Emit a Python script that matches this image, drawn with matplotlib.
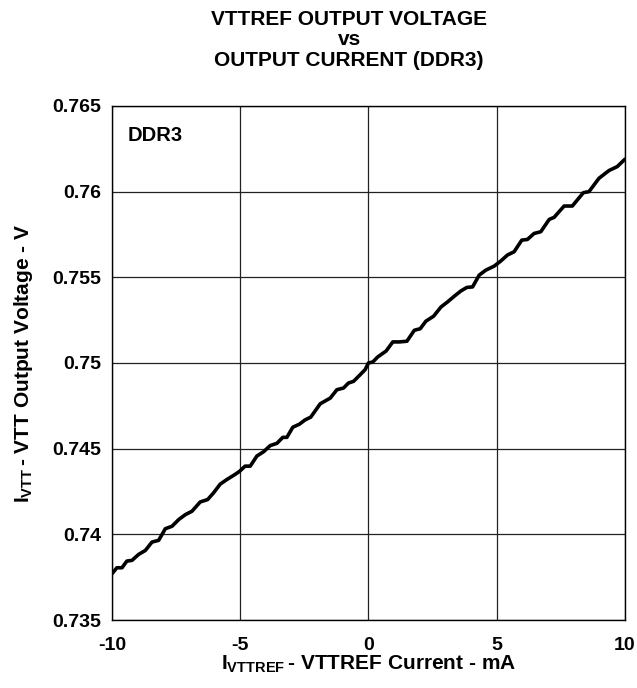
import matplotlib
matplotlib.use("Agg")
import matplotlib.pyplot as plt

plt.rcParams['font.family'] = ['Liberation Sans', 'DejaVu Sans']
plt.rcParams['font.weight'] = 'bold'
plt.rcParams['axes.labelweight'] = 'bold'
plt.rcParams['mathtext.fontset'] = 'custom'
plt.rcParams['mathtext.rm'] = 'Liberation Sans:bold'
plt.rcParams['mathtext.bf'] = 'Liberation Sans:bold'
plt.rcParams['mathtext.it'] = 'Liberation Sans:bold'

# VTTREF current (mA) and VTT output voltage (V)
current_ma = [-10.0, -9.81, -9.61, -9.42, -9.22, -8.96, -8.70, -8.44, -8.18, -7.92,
              -7.66, -7.40, -7.14, -6.88, -6.56, -6.27, -6.04, -5.78, -5.52, -5.26,
              -5.03, -4.81, -4.61, -4.35, -4.09, -3.83, -3.57, -3.34, -3.18, -2.95,
              -2.69, -2.47, -2.25, -1.88, -1.49, -1.23, -0.97, -0.78, -0.58, -0.32,
              -0.13, 0.0, 0.17, 0.36, 0.69, 0.95, 1.21, 1.50, 1.79, 2.02,
              2.24, 2.54, 2.83, 3.09, 3.35, 3.61, 3.84, 4.06, 4.32, 4.58,
              4.90, 5.16, 5.42, 5.68, 5.98, 6.20, 6.46, 6.72, 7.05, 7.24,
              7.63, 7.95, 8.38, 8.60, 8.99, 9.38, 9.70, 10.0]
vtt_v = [0.73770, 0.73805, 0.73805, 0.73844, 0.73848, 0.73883, 0.73906, 0.73955, 0.73965, 0.74033,
         0.74047, 0.74086, 0.74115, 0.74135, 0.74189, 0.74203, 0.74242, 0.74293, 0.74320, 0.74344,
         0.74367, 0.74398, 0.74398, 0.74457, 0.74482, 0.74518, 0.74531, 0.74566, 0.74566, 0.74625,
         0.74643, 0.74668, 0.74684, 0.74762, 0.74795, 0.74844, 0.74854, 0.74883, 0.74893, 0.74932,
         0.74961, 0.75000, 0.75006, 0.75035, 0.75070, 0.75123, 0.75123, 0.75127, 0.75191, 0.75200,
         0.75244, 0.75273, 0.75327, 0.75357, 0.75390, 0.75421, 0.75441, 0.75444, 0.75513, 0.75542,
         0.75565, 0.75595, 0.75630, 0.75649, 0.75717, 0.75721, 0.75756, 0.75766, 0.75838, 0.75850,
         0.75916, 0.75916, 0.75994, 0.76000, 0.76078, 0.76123, 0.76146, 0.76189]

x_ticks = [-10, -5, 0, 5, 10]
x_tick_labels = ['-10', '-5', '0', '5', '10']
y_ticks = [0.735, 0.74, 0.745, 0.75, 0.755, 0.76, 0.765]
y_tick_labels = ['0.735', '0.74', '0.745', '0.75', '0.755', '0.76', '0.765']

fig = plt.figure(figsize=(6.37, 6.88), dpi=100)
ax = fig.add_axes([0.1758, 0.0988, 0.8052, 0.7472])

ax.plot(current_ma, vtt_v, color='black', linewidth=2.6, solid_capstyle='round')

ax.set_xlim(-10, 10)
ax.set_ylim(0.735, 0.765)
ax.set_xticks(x_ticks)
ax.set_xticklabels(x_tick_labels)
ax.set_yticks(y_ticks)
ax.set_yticklabels(y_tick_labels)
ax.tick_params(length=0, labelsize=14, pad=8)
ax.tick_params(axis='x', pad=12)
ax.grid(True, color='#222222', linewidth=0.9)
for s in ax.spines.values():
    s.set_linewidth(1.0)

ax.text(-9.4, 0.7633, 'DDR3', fontsize=14.5, fontweight='bold', va='center', ha='left')

ax.set_xlabel(r'$\mathbf{I_{VTTREF}}\,$- VTTREF Current - mA', fontsize=15, labelpad=0)
ax.set_ylabel(r'$\mathbf{I_{VTT}}\,$- VTT Output Voltage - V', fontsize=15, labelpad=12)

fig.text(0.548, 0.986, 'VTTREF OUTPUT VOLTAGE\nvs\nOUTPUT CURRENT (DDR3)',
         ha='center', va='top', fontsize=15, fontweight='bold', linespacing=1.1)

fig.savefig('out.png', dpi=100)
